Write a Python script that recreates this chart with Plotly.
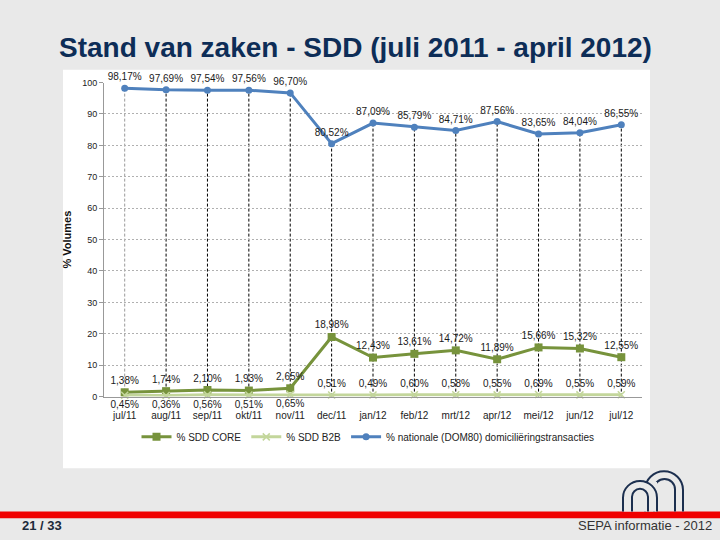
import plotly.graph_objects as go

# ---- data ----
months = ["jul/11", "aug/11", "sep/11", "okt/11", "nov/11", "dec/11", "jan/12",
          "feb/12", "mrt/12", "apr/12", "mei/12", "jun/12", "jul/12"]
sdd_core = [1.38, 1.74, 2.10, 1.93, 2.65, 18.98, 12.43, 13.61, 14.72, 11.89, 15.66, 15.32, 12.55]
sdd_b2b = [0.45, 0.36, 0.56, 0.51, 0.65, 0.51, 0.49, 0.60, 0.58, 0.55, 0.69, 0.55, 0.59]
dom80 = [98.17, 97.69, 97.54, 97.56, 96.70, 80.52, 87.09, 85.79, 84.71, 87.56, 83.65, 84.04, 86.55]
y_ticks = [0, 10, 20, 30, 40, 50, 60, 70, 80, 90, 100]

W, H = 720, 540
def px(x):
    return x / W
def py(y):
    return 1 - y / H

def pct(v):
    return f"{v:.2f}".replace(".", ",") + "%"

BLUE = "#4f81bd"
OLIVE = "#77933c"
LIGHT = "#c3d69b"
lab_font = dict(family="Liberation Sans", size=10, color="#1a1a1a")

fig = go.Figure()

fig.add_trace(go.Scatter(
    x=months, y=sdd_core, name="% SDD CORE", mode="lines+markers+text",
    line=dict(color=OLIVE, width=3), marker=dict(symbol="square", size=8, color=OLIVE),
    text=[pct(v) for v in sdd_core], textposition="top center", textfont=lab_font,
    cliponaxis=False))

fig.add_trace(go.Scatter(
    x=months, y=sdd_b2b, name="% SDD B2B", mode="lines+markers+text",
    line=dict(color=LIGHT, width=3), marker=dict(symbol="x-thin", size=7,
                                                   line=dict(color=LIGHT, width=1.5)),
    text=[pct(v) for v in sdd_b2b],
    textposition=["bottom center"] * 5 + ["top center"] * 8, textfont=lab_font,
    cliponaxis=False))

fig.add_trace(go.Scatter(
    x=months, y=dom80, name="% nationale (DOM80) domiciliëringstransacties",
    mode="lines+markers+text",
    line=dict(color=BLUE, width=3), marker=dict(symbol="circle", size=7, color=BLUE),
    text=[pct(v) for v in dom80], textposition="top center", textfont=lab_font,
    cliponaxis=False))

shapes = []
# white chart panel
shapes.append(dict(type="rect", xref="paper", yref="paper", x0=px(63), x1=px(650),
                   y0=py(472), y1=py(66), fillcolor="white", line=dict(width=0), layer="below"))
# drop lines
for i, (m, v) in enumerate(zip(months, dom80)):
    shapes.append(dict(type="line", xref="x", yref="y", x0=m, x1=m, y0=0, y1=v,
                       line=dict(color="#9a9a9a" if i == 0 else "#000000", width=1, dash="3px,2px"),
                       layer="below"))
# red footer bar
shapes.append(dict(type="rect", xref="paper", yref="paper", x0=0, x1=1,
                   y0=py(523), y1=py(516), fillcolor="#f00000", line=dict(width=0)))

# logo arches (inverted U)
def arch(xl, xr, ytop, ybot):
    r = (xr - xl) / 2
    cy = ytop + r
    k = 0.5523 * r
    xm = (xl + xr) / 2
    p = (f"M {px(xl)},{py(ybot)} L {px(xl)},{py(cy)} "
         f"C {px(xl)},{py(cy - k)} {px(xm - k)},{py(ytop)} {px(xm)},{py(ytop)} "
         f"C {px(xm + k)},{py(ytop)} {px(xr)},{py(cy - k)} {px(xr)},{py(cy)} "
         f"L {px(xr)},{py(ybot)}")
    return dict(type="path", xref="paper", yref="paper", path=p,
                line=dict(color="#1c2f4f", width=2))
shapes.append(arch(645, 683, 475, 516))
shapes.append(arch(654, 675, 483, 516))
shapes.append(dict(type="rect", xref="paper", yref="paper", x0=px(624), x1=px(657),
                   y0=py(516), y1=py(486), fillcolor="#e9e9e9", line=dict(width=0)))
shapes.append(arch(623, 657, 485, 516))
shapes.append(arch(632, 648, 493, 516))

annotations = [
    dict(text="<b>Stand van zaken - SDD (juli 2011 - april 2012)</b>", xref="paper", yref="paper",
         x=px(355), y=py(43), xanchor="center", yanchor="middle", showarrow=False,
         font=dict(family="Liberation Sans", size=28, color="#0d2d57")),
    dict(text="<b>21 / 33</b>", xref="paper", yref="paper", x=px(20), y=py(530),
         xanchor="left", yanchor="middle", showarrow=False,
         font=dict(family="Liberation Sans", size=13, color="#1c2a3a")),
    dict(text="SEPA informatie - 2012", xref="paper", yref="paper", x=px(714), y=py(530),
         xanchor="right", yanchor="middle", showarrow=False,
         font=dict(family="Liberation Sans", size=13, color="#333333")),
]

fig.update_layout(
    width=W, height=H, autosize=False,
    margin=dict(l=0, r=0, t=0, b=0),
    paper_bgcolor="#e9e9e9", plot_bgcolor="rgba(0,0,0,0)",
    showlegend=True,
    legend=dict(orientation="h", x=px(368), y=py(440), xanchor="center", yanchor="middle",
                bgcolor="rgba(0,0,0,0)", font=dict(family="Liberation Sans", size=10, color="#222"),
                itemwidth=30, tracegroupgap=0),
    shapes=shapes, annotations=annotations,
    xaxis=dict(domain=[px(104), px(642)], type="category", range=[-0.5, 12.5],
               showgrid=False, showline=True, linecolor="#999999", linewidth=1,
               ticks="", ticklabelstandoff=9,
               tickfont=dict(family="Liberation Sans", size=10, color="#222"),
               zeroline=False),
    yaxis=dict(domain=[py(399), py(79)], range=[0, 100], tickvals=y_ticks,
               showgrid=True, gridcolor="#b0b0b0", griddash="2px,2px", gridwidth=1,
               showline=True, linecolor="#999999", linewidth=1,
               ticks="outside", ticklen=4, tickcolor="#999999",
               tickfont=dict(family="Liberation Sans", size=9, color="#222"),
               zeroline=False,
               title=dict(text="<b>% Volumes</b>", standoff=8,
                          font=dict(family="Liberation Sans", size=11, color="#111"))),
)

fig.write_html("out.html", config={"displayModeBar": False},
               post_script="document.body.style.margin='0';")
